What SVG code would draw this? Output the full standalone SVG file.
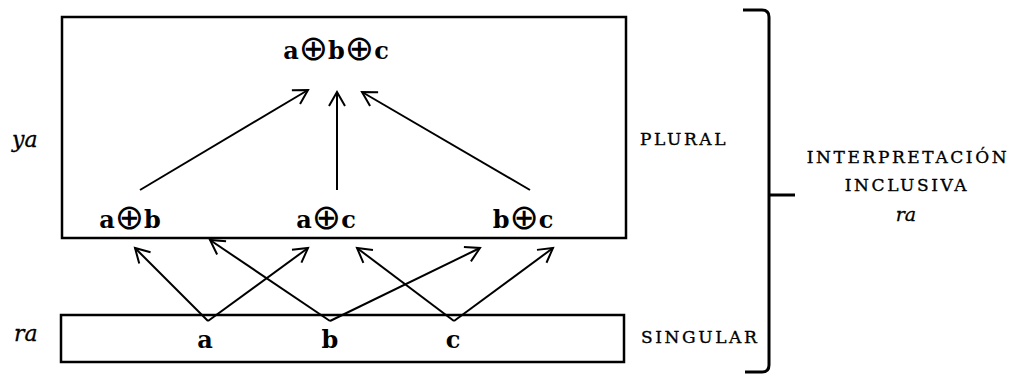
<svg xmlns="http://www.w3.org/2000/svg" width="1011" height="375" viewBox="0 0 1011 375">
<style>
.box{fill:none;stroke:#000;stroke-width:2.5}
.bold{font-family:"DejaVu Serif","Liberation Serif",serif;font-weight:bold;font-size:24px;fill:#000}
.op{font-family:"DejaVu Sans","Liberation Sans",sans-serif;font-weight:normal;font-size:35px}
.caps{font-family:"DejaVu Serif","Liberation Serif",serif;font-size:17px;letter-spacing:2.6px;fill:#000;stroke:#000;stroke-width:0.35}
.it{font-family:"DejaVu Serif","Liberation Serif",serif;font-style:italic;font-size:22px;fill:#000;stroke:#000;stroke-width:0.3}
.conn line{stroke:#000;stroke-width:2;marker-end:url(#ah)}
</style>
<defs>
<marker id="ah" markerUnits="userSpaceOnUse" markerWidth="24" markerHeight="24" refX="20" refY="12" orient="auto">
<path d="M6,4 L20,12 L6,20" fill="none" stroke="#000" stroke-width="2"/>
</marker>
</defs>
<rect width="1011" height="375" fill="#fff"/>
<g id="plural-box"><rect class="box" x="62" y="17" width="564" height="221"/></g>
<g id="singular-box"><rect class="box" x="61" y="315" width="563" height="47"/></g>
<g id="abc"><text class="bold" x="336" y="59" text-anchor="middle">a<tspan class="op" dy="1">⊕</tspan><tspan dy="-1">b</tspan><tspan class="op" dy="1">⊕</tspan><tspan dy="-1">c</tspan></text></g>
<g id="ab"><text class="bold" x="130" y="228" text-anchor="middle">a<tspan class="op" dy="1">⊕</tspan><tspan dy="-1">b</tspan></text></g>
<g id="ac"><text class="bold" x="326" y="228" text-anchor="middle">a<tspan class="op" dy="1">⊕</tspan><tspan dy="-1">c</tspan></text></g>
<g id="bc"><text class="bold" x="523" y="228" text-anchor="middle">b<tspan class="op" dy="1">⊕</tspan><tspan dy="-1">c</tspan></text></g>
<g id="a"><text class="bold" x="205" y="348" text-anchor="middle">a</text></g>
<g id="b"><text class="bold" x="330" y="348" text-anchor="middle">b</text></g>
<g id="c"><text class="bold" x="453" y="348" text-anchor="middle">c</text></g>
<g id="labels">
<text class="it" x="12" y="147">ya</text>
<text class="it" x="14" y="341">ra</text>
<text class="caps" x="640" y="145">PLURAL</text>
<text class="caps" x="641" y="343">SINGULAR</text>
<text class="caps" x="908" y="163" text-anchor="middle">INTERPRETACIÓN</text>
<text class="caps" x="907" y="191" text-anchor="middle">INCLUSIVA</text>
<text class="it" x="906" y="221" text-anchor="middle" style="font-size:19px">ra</text>
</g>
<g id="brace"><path d="M743,10 L762,10 Q769,10 769,17 L769,365 Q769,372 762,372 L745,372 M769,195 L795,195" fill="none" stroke="#000" stroke-width="3"/></g>
<g class="conn" id="connectors">
<line x1="140" y1="190" x2="308" y2="90"/>
<line x1="337" y1="190" x2="337" y2="92"/>
<line x1="530" y1="190" x2="362" y2="92"/>
<line x1="208" y1="321" x2="135" y2="248"/>
<line x1="208" y1="321" x2="308" y2="248"/>
<line x1="330" y1="321" x2="210" y2="240"/>
<line x1="330" y1="321" x2="480" y2="248"/>
<line x1="454" y1="321" x2="357" y2="248"/>
<line x1="454" y1="321" x2="553" y2="248"/>
</g>
</svg>
